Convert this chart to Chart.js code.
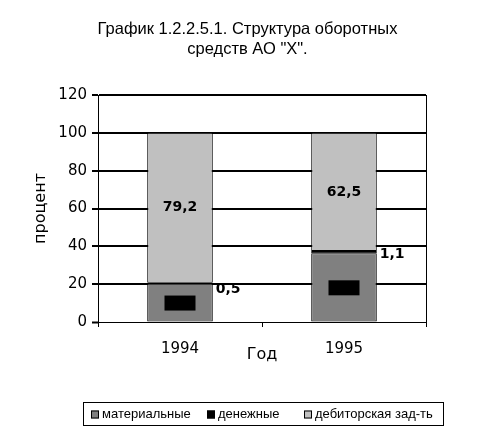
<!DOCTYPE html>
<html>
<head>
<meta charset="utf-8">
<script src="https://cdn.jsdelivr.net/npm/chart.js@4/dist/chart.umd.min.js"></script>
<style>
  html, body { margin: 0; padding: 0; background: #fff; }
  #wrap { width: 495px; height: 437px; }
</style>
</head>
<body>
<div id="wrap"><canvas id="chart"></canvas></div>
<script>
// data
const years = ['1994', '1995'];
const materials = [20.3, 36.4];
const cash = [0.5, 1.1];
const debtors = [79.2, 62.5];
const seriesNames = ['материальные', 'денежные', 'дебиторская зад-ть'];
const seriesColors = ['#808080', '#000000', '#c0c0c0'];
const yMax = 120;
const yStep = 20;
const titleLines = ['График 1.2.2.5.1. Структура оборотных', 'средств АО "Х".'];

const fmt = v => String(v).replace('.', ',');

// value labels on the bars
const labelPlugin = {
  id: 'barLabels',
  afterDatasetsDraw(chart) {
    const ctx = chart.ctx;
    ctx.save();
    ctx.textBaseline = 'middle';
    chart.data.datasets.forEach((ds, i) => {
      chart.getDatasetMeta(i).data.forEach((bar, j) => {
        const cy = (bar.y + bar.base) / 2;
        const txt = fmt(ds.data[j]);
        ctx.fillStyle = '#000';
        if (i === 0) {
          // excel drew these as black label boxes
          ctx.fillRect(bar.x - 15.5, cy - 7, 31, 15);
          ctx.font = 'bold 10px "DejaVu Sans"';
          ctx.textAlign = 'center';
          ctx.fillText(txt, bar.x, cy + 1);
        } else if (i === 1) {
          ctx.font = 'bold 14px "DejaVu Sans"';
          ctx.textAlign = 'left';
          ctx.fillText(txt, bar.x + bar.width / 2 + 3, cy + (j === 0 ? 6 : 2));
        } else {
          ctx.font = 'bold 14px "DejaVu Sans"';
          ctx.textAlign = 'center';
          ctx.fillText(txt, bar.x, cy);
        }
      });
    });
    ctx.restore();
  }
};

// title, right border of plot area, boxed legend at the bottom
const framePlugin = {
  id: 'frameLegend',
  afterDraw(chart) {
    const ctx = chart.ctx;
    const a = chart.chartArea;
    ctx.save();
    ctx.fillStyle = '#000';
    ctx.font = '16.5px "Liberation Sans"';
    ctx.textAlign = 'center';
    ctx.textBaseline = 'middle';
    titleLines.forEach((t, i) => ctx.fillText(t, chart.width / 2, 29 + i * 20));

    ctx.strokeStyle = '#000';
    ctx.lineWidth = 1;
    ctx.beginPath();
    ctx.moveTo(Math.round(a.right) + 0.5, a.top);
    ctx.lineTo(Math.round(a.right) + 0.5, a.bottom);
    ctx.stroke();

    ctx.font = '13px "Liberation Sans"';
    ctx.textAlign = 'left';
    const box = 8, gapBox = 3;
    const itemX = [91, 207, 304];
    const lx = 83, lw = 360, ly = 402, lh = 23;
    ctx.strokeRect(lx + 0.5, ly + 0.5, lw, lh);
    const cy = ly + lh / 2 + 1;
    seriesNames.forEach((n, i) => {
      const x = itemX[i];
      ctx.fillStyle = seriesColors[i];
      ctx.fillRect(x, cy - box / 2, box, box);
      ctx.strokeRect(x + 0.5, cy - box / 2 + 0.5, box - 1, box - 1);
      ctx.fillStyle = '#000';
      ctx.fillText(n, x + box + gapBox, cy);
    });
    ctx.restore();
  }
};

const mk = (data, i) => ({
  label: seriesNames[i],
  data: data,
  backgroundColor: seriesColors[i],
  borderColor: '#000',
  borderWidth: 1,
  borderSkipped: false,
  barPercentage: 0.4,
  categoryPercentage: 1
});

new Chart(document.getElementById('chart'), {
  type: 'bar',
  data: {
    labels: years,
    datasets: [mk(materials, 0), mk(cash, 1), mk(debtors, 2)]
  },
  options: {
    responsive: true,
    maintainAspectRatio: false,
    animation: false,
    events: [],
    layout: { padding: { left: 0, right: 69, top: 95, bottom: 73 } },
    plugins: {
      legend: { display: false },
      tooltip: { enabled: false },
      title: { display: false }
    },
    scales: {
      x: {
        stacked: true,
        afterFit(s) { s.height = 42; },
        border: { display: true, color: '#000', width: 1 },
        grid: { display: true, drawOnChartArea: false, drawTicks: true, tickLength: 5, color: '#000', lineWidth: 1, offset: true },
        ticks: { color: '#000', font: { family: '"DejaVu Sans"', size: 15 }, padding: 13 },
        title: {
          display: true, text: 'Год', color: '#000',
          font: { family: '"DejaVu Sans"', size: 16 },
          padding: { top: 0, bottom: 0 }
        }
      },
      y: {
        stacked: true,
        min: 0,
        max: yMax,
        afterFit(s) { s.width = 98; },
        border: { display: true, color: '#000', width: 1 },
        grid: {
          color: '#000',
          lineWidth: c => (c.tick && c.tick.value === 0 ? 1 : 2),
          tickLength: 6,
          tickWidth: 2
        },
        ticks: { stepSize: yStep, color: '#000', font: { family: '"DejaVu Sans"', size: 15 }, padding: 5 },
        title: {
          display: true, text: 'процент', color: '#000',
          font: { family: '"DejaVu Sans"', size: 16 },
          padding: { top: 31, bottom: 0 }
        }
      }
    }
  },
  plugins: [labelPlugin, framePlugin]
});
</script>
</body>
</html>
